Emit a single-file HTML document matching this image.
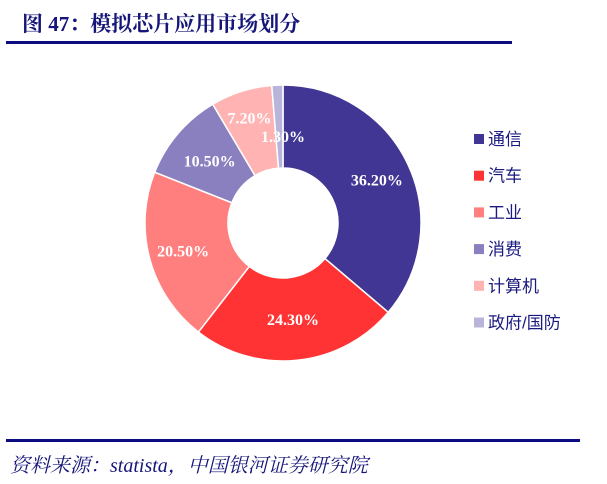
<!DOCTYPE html>
<html><head><meta charset="utf-8">
<style>
body{margin:0;width:607px;height:484px;background:#fff;overflow:hidden;position:relative;font-family:"Liberation Serif","Noto Serif CJK SC",serif}
.title{position:absolute;left:22px;top:8px;font-size:21px;font-weight:bold;color:#16167a;font-family:"Liberation Serif","Noto Serif CJK SC",serif}
.rule{position:absolute;left:6px;width:506px;height:3px;background:#0c0c80}
.foot{position:absolute;left:10px;top:449px;font-size:20px;font-style:italic;color:#16167a;font-family:"Liberation Serif","Noto Serif CJK SC",serif}
</style></head><body>
<div class="title">图 47：模拟芯片应用市场划分</div>
<div class="rule" style="top:41px"></div>
<svg id="chart" width="607" height="484" style="position:absolute;left:0;top:0"></svg>
<div class="rule" style="top:439px;width:574px"></div>
<div class="foot">资料来源：statista，中国银河证券研究院</div>
<script>
const categories=["通信","汽车","工业","消费","计算机","政府/国防"];
const values=[36.2,24.3,20.5,10.5,7.2,1.3];
const labels=["36.20%","24.30%","20.50%","10.50%","7.20%","1.30%"];
const colors=["#413693","#ff3334","#ff7f7f","#8a80bf","#ffb3b3","#b9b4da"];
const svg=document.getElementById('chart');
const NS="http://www.w3.org/2000/svg";
const cx=283,cy=223,R=138,r=55;
const total=values.reduce((a,b)=>a+b,0);
function pt(a,rad){return [cx+rad*Math.sin(a),cy-rad*Math.cos(a)];}
let acc=0;
values.forEach((v,i)=>{
  const a0=acc/total*2*Math.PI;acc+=v;const a1=acc/total*2*Math.PI;
  const lg=(a1-a0)>Math.PI?1:0;
  const [x0,y0]=pt(a0,R),[x1,y1]=pt(a1,R),[x2,y2]=pt(a1,r),[x3,y3]=pt(a0,r);
  const p=document.createElementNS(NS,'path');
  p.setAttribute('d',`M${x0},${y0}A${R},${R} 0 ${lg} 1 ${x1},${y1}L${x2},${y2}A${r},${r} 0 ${lg} 0 ${x3},${y3}Z`);
  p.setAttribute('fill',colors[i]);p.setAttribute('stroke','#fff');p.setAttribute('stroke-width','1.5');
  
  
  svg.appendChild(p);
  const am=(a0+a1)/2;let [lx,ly]=pt(am,(R+r)/2+(i>=4?14:(i==0||i==2?7:0)));
  if(i==5){lx=cx;ly=cy-87;}
  const t=document.createElementNS(NS,'text');
  t.setAttribute('x',lx);t.setAttribute('y',ly+6);t.setAttribute('text-anchor','middle');
  t.setAttribute('fill','#fff');t.setAttribute('font-size','16');t.setAttribute('font-weight','bold');
  t.setAttribute('font-family','Liberation Serif, serif');
  t.textContent=labels[i];
  
  
  svg.appendChild(t);
  const ly2=139+i*36.7;
  const s=document.createElementNS(NS,'rect');
  s.setAttribute('x',474);s.setAttribute('y',ly2-5);s.setAttribute('width',10);s.setAttribute('height',10);s.setAttribute('fill',colors[i]);
  
  
  svg.appendChild(s);
  const lt=document.createElementNS(NS,'text');
  lt.setAttribute('x',488);lt.setAttribute('y',ly2+6);lt.setAttribute('fill','#1a1a80');lt.setAttribute('font-size','17');
  lt.setAttribute('font-family','Liberation Sans, Noto Sans CJK SC, sans-serif');
  lt.textContent=categories[i];
  
  
  svg.appendChild(lt);
});
</script>
</body></html>
